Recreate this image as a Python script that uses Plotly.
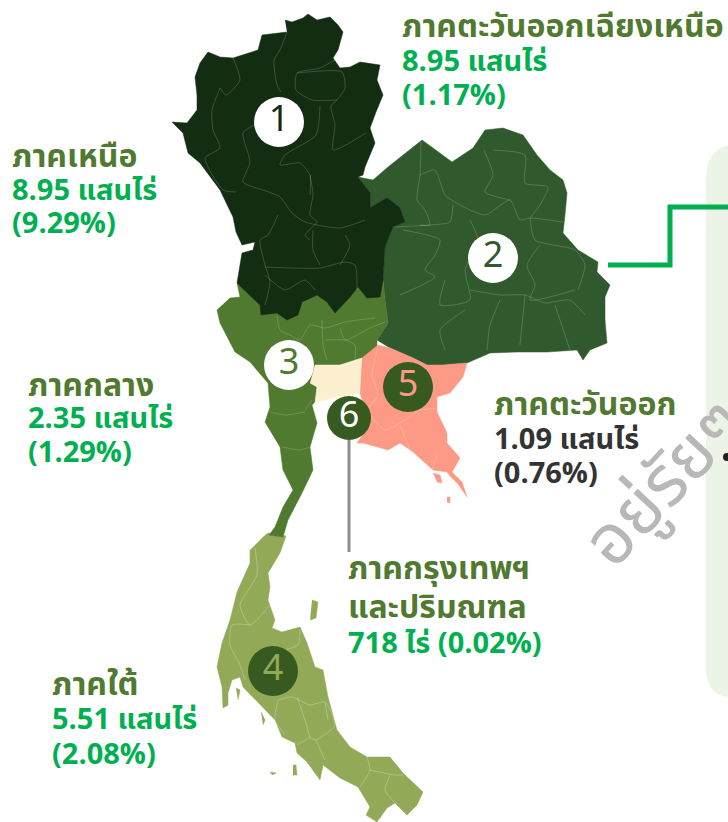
import plotly.graph_objects as go

# Region outlines as (x, y) map units
north = [(285,20),(292,22),(303,18),(308,14),(317,20),(330,17),(338,25),(343,32),(338,50),(333,58),(340,68),(350,67),(360,62),(380,65),(377,80),(383,95),(376,112),(370,128),(375,143),(370,155),(365,167),(363,175),(358,177),(370,192),(370,208),(387,198),(400,208),(405,222),(393,227),(385,247),(384,265),(383,280),(380,297),(367,298),(358,287),(350,297),(335,313),(327,302),(317,295),(302,302),(298,315),(287,320),(277,313),(261,315),(260,305),(250,295),(237,283),(240,265),(242,253),(253,250),(255,242),(242,245),(236,232),(233,217),(220,190),(200,163),(188,153),(183,133),(172,122),(187,123),(197,110),(197,95),(195,77),(200,63),(208,52),(220,57),(233,58),(258,50),(262,35),(287,32)]
northeast = [(358,177),(373,180),(388,167),(403,155),(422,140),(433,148),(452,162),(473,148),(485,130),(503,128),(523,135),(537,155),(550,170),(563,180),(567,193),(565,215),(563,233),(578,250),(598,262),(597,272),(610,285),(605,297),(605,320),(607,343),(590,350),(583,360),(577,350),(547,352),(517,352),(490,353),(467,363),(443,365),(427,365),(413,358),(390,348),(377,340),(388,323),(385,300),(383,280),(385,247),(393,227),(405,222),(400,208),(370,208),(370,192)]
central = [(237,283),(240,297),(230,298),(217,310),(220,323),(235,352),(250,362),(268,383),(270,407),(265,422),(280,447),(283,470),(293,490),(283,507),(275,527),(269,535),(283,537),(288,520),(302,493),(313,470),(310,447),(317,423),(312,405),(315,402),(317,387),(312,380),(315,365),(340,365),(362,358),(377,350),(377,340),(388,323),(385,300),(383,280)]
bangkok = [(315,365),(340,365),(362,358),(360,393),(333,398),(315,403),(317,387),(310,383)]
east = [(362,358),(378,345),(390,348),(413,358),(427,365),(443,365),(467,363),(463,377),(450,393),(437,397),(437,412),(447,433),(447,443),(460,458),(452,472),(462,482),(467,497),(458,484),(450,476),(447,472),(433,470),(413,452),(400,443),(388,450),(363,443),(357,443),(370,425),(360,393)]
east_isles = [[(433,473),(440,475),(442,483),(437,482)],[(447,497),(450,497),(450,503),(447,502)]]
south = [(262,538),(268,533),(286,536),(280,553),(268,573),(270,587),(268,600),(275,620),(272,628),(282,632),(300,627),(307,643),(315,667),(323,670),(328,697),(337,730),(350,747),(367,757),(390,757),(403,773),(423,792),(417,805),(407,815),(395,803),(387,808),(377,822),(366,815),(370,807),(358,787),(340,778),(323,765),(320,780),(307,762),(297,753),(295,743),(282,737),(275,720),(265,710),(258,702),(243,687),(240,677),(232,680),(228,693),(228,705),(223,708),(222,687),(217,667),(222,643),(230,620),(237,592),(250,563),(250,550)]
south_isles = [[(312,600),(318,602),(316,618),(310,620)],[(293,765),(296,765),(297,775),(293,775)],[(236,688),(240,690),(238,700)],[(261,712),(265,720),(263,725)],[(270,772),(276,773),(272,775)]]

# Province borders inside each region
north_borders = [[(287,32),(280,50),(274,60),(277,85),(281,92)],[(338,58),(320,68),(297,73),(296,90),(312,100),(337,100)],[(297,73),(342,72),(345,88),(337,100),(331,106),(335,125),(333,150),(366,133)],[(320,106),(316,135),(285,155),(280,165),(300,163),(310,175),(310,195)],[(260,122),(243,133),(250,162),(243,182),(263,190)],[(220,88),(212,110),(213,130),(220,148),(205,158),(223,190),(236,192)],[(233,58),(240,80),(226,95),(220,88)],[(263,190),(280,197),(292,213),(305,222),(340,228),(365,220)],[(310,175),(313,195),(310,215),(317,222),(305,235),(310,240)],[(278,215),(268,235),(260,240),(265,265),(270,282),(265,305)],[(265,267),(320,268),(345,262),(355,265),(357,290)],[(265,275),(285,290),(305,280),(315,290)],[(313,230),(313,250),(320,265)],[(345,235),(350,245),(340,265)]]
ne_borders = [[(421,142),(420,175),(417,200),(425,210),(430,225),(420,225)],[(420,175),(435,170),(445,195),(460,205),(485,215),(510,200),(520,220),(530,218),(563,222)],[(484,150),(493,175),(485,192),(510,200)],[(493,150),(525,155),(525,183),(548,187),(540,205),(530,218)],[(453,205),(450,222),(430,225),(393,227)],[(403,230),(440,240),(435,255),(425,270),(435,277),(400,295)],[(470,220),(478,240),(465,270),(470,300),(440,305),(445,280)],[(530,218),(535,240),(575,250),(585,265),(578,290)],[(540,245),(527,265),(535,285),(530,300),(575,290)],[(470,290),(500,295),(525,295),(545,303),(570,300),(585,315)],[(465,310),(440,330),(445,350)],[(500,300),(490,325),(487,350)],[(525,295),(520,345)],[(555,305),(570,350)]]
central_borders = [[(277,316),(280,330),(290,335),(300,340),(310,325),(325,328),(345,322),(375,318)],[(322,320),(323,345),(327,360)],[(325,340),(345,340),(355,345),(355,360)],[(340,328),(345,340),(370,328),(385,322)],[(270,412),(285,415),(305,412)],[(282,447),(300,450),(310,447)],[(305,410),(312,400)]]
east_borders = [[(378,347),(372,375),(378,395),(368,410),(385,430),(400,423),(420,410)],[(400,425),(410,450)],[(420,410),(437,408)],[(437,455),(432,470)]]
south_borders = [[(255,548),(257,575),(240,605),(250,625),(270,605)],[(250,625),(232,625),(230,645),(240,665),(245,680)],[(300,630),(298,645),(285,650)],[(278,700),(292,697),(310,705),(325,702),(335,725),(316,740),(310,738),(297,745)],[(297,697),(305,720),(310,738)],[(325,702),(328,720)],[(278,700),(275,720),(285,735)],[(316,740),(325,760)],[(367,757),(370,770),(360,787)],[(370,770),(395,775),(403,775)],[(390,775),(385,790),(395,803)]]

connector = [(608,265),(670,265),(670,207),(728,207)]
leader = [(349,440),(349,552)]
panel_dot = [(727,457)]

badge_x = [279, 493, 289, 273, 408, 349]
badge_y = [122, 258, 365, 671, 387, 418]
badge_d = [50, 50, 50, 50, 50, 44]
badge_text = ["1", "2", "3", "4", "5", "6"]
badge_fill = ["#ffffff", "#ffffff", "#ffffff", "#375a20", "#375a20", "#375a20"]
badge_ink = ["#132d13", "#305a2e", "#507a2f", "#92aa58", "#fd9a85", "#ffffff"]

label_x = [400, 10, 26, 492, 346, 50]
label_y = [[27, 62, 96], [157, 191, 224], [386, 419, 453], [405, 440, 474], [569, 608, 644], [685, 720, 755]]
label_lines = [
    ["ภาคตะวันออกเฉียงเหนือ", "8.95 แสนไร่", "(1.17%)"],
    ["ภาคเหนือ", "8.95 แสนไร่", "(9.29%)"],
    ["ภาคกลาง", "2.35 แสนไร่", "(1.29%)"],
    ["ภาคตะวันออก", "1.09 แสนไร่", "(0.76%)"],
    ["ภาคกรุงเทพฯ", "และปริมณฑล", "718 ไร่ (0.02%)"],
    ["ภาคใต้", "5.51 แสนไร่", "(2.08%)"],
]
label_colors = [
    ["#507a2f", "#00b050", "#00b050"],
    ["#507a2f", "#00b050", "#00b050"],
    ["#507a2f", "#00b050", "#00b050"],
    ["#507a2f", "#333333", "#333333"],
    ["#507a2f", "#507a2f", "#00b050"],
    ["#507a2f", "#00b050", "#00b050"],
]
label_sizes = [
    [32, 29, 29],
    [32, 29, 29],
    [32, 29, 29],
    [32, 29, 29],
    [32, 32, 29],
    [32, 29, 29],
]
FONT = "Noto Sans Thai, Noto Sans, Open Sans, sans-serif"

fig = go.Figure()

def poly(pts, color):
    fig.add_trace(go.Scatter(x=[p[0] for p in pts], y=[p[1] for p in pts], mode="lines",
                             fill="toself", fillcolor=color, line=dict(color=color, width=0.5),
                             hoverinfo="skip", showlegend=False))

def lines(groups, color, width=0.7):
    for pts in groups:
        fig.add_trace(go.Scatter(x=[p[0] for p in pts], y=[p[1] for p in pts], mode="lines",
                                 line=dict(color=color, width=width, shape="spline", smoothing=0.6),
                                 hoverinfo="skip", showlegend=False))

poly(south, "#92aa58")
for isle in south_isles:
    poly(isle, "#92aa58")
lines(south_borders, "rgba(255,255,255,0.35)")
poly(northeast, "#305a2e")
lines(ne_borders, "rgba(255,255,255,0.25)")
poly(central, "#507a2f")
lines(central_borders, "rgba(255,255,255,0.25)")
poly(north, "#132d13")
lines(north_borders, "rgba(255,255,255,0.25)")
poly(bangkok, "#fdf0d0")
poly(east, "#fd9a85")
for isle in east_isles:
    poly(isle, "#fd9a85")
lines(east_borders, "rgba(255,255,255,0.3)")

fig.add_trace(go.Scatter(x=[p[0] for p in connector], y=[p[1] for p in connector], mode="lines",
                         line=dict(color="#00b050", width=5), hoverinfo="skip", showlegend=False, cliponaxis=False))
fig.add_trace(go.Scatter(x=[p[0] for p in leader], y=[p[1] for p in leader], mode="lines",
                         line=dict(color="#8c8c8c", width=3), hoverinfo="skip", showlegend=False))
fig.add_trace(go.Scatter(x=[p[0] for p in panel_dot], y=[p[1] for p in panel_dot], mode="markers",
                         marker=dict(size=8, color="#222222"), hoverinfo="skip", showlegend=False))
fig.add_trace(go.Scatter(x=badge_x, y=badge_y, mode="markers+text", text=badge_text, textposition="middle center",
                         marker=dict(size=badge_d, color=badge_fill, line=dict(width=0), opacity=1),
                         textfont=dict(family=FONT, size=36, color=badge_ink),
                         hoverinfo="skip", showlegend=False))

for x, ys, texts, cols, sizes in zip(label_x, label_y, label_lines, label_colors, label_sizes):
    for y, t, c, s in zip(ys, texts, cols, sizes):
        fig.add_annotation(x=x, y=y, text=f"<b>{t}</b>", showarrow=False, xanchor="left", yanchor="middle",
                           font=dict(family=FONT, size=s, color=c))

fig.add_annotation(x=666, y=484, text="อยู่รัยๆ", showarrow=False, textangle=-47,
                   font=dict(family=FONT, size=70, color="#b8b8b8"))

fig.update_layout(
    width=728, height=822, margin=dict(l=0, r=0, t=0, b=0),
    paper_bgcolor="#ffffff", plot_bgcolor="#ffffff",
    xaxis=dict(range=[0, 728], visible=False, fixedrange=True),
    yaxis=dict(range=[822, 0], visible=False, fixedrange=True),
    shapes=[dict(type="path", layer="below", line=dict(width=0), fillcolor="#ecf4e8",
                 path="M 760 145 L 735 145 Q 706 145 706 180 L 706 668 Q 706 698 735 698 L 760 698 Z")],
)
fig.write_html("out.html", config={"displayModeBar": False},
               post_script="document.body.style.margin='0';document.body.style.overflow='hidden';")
